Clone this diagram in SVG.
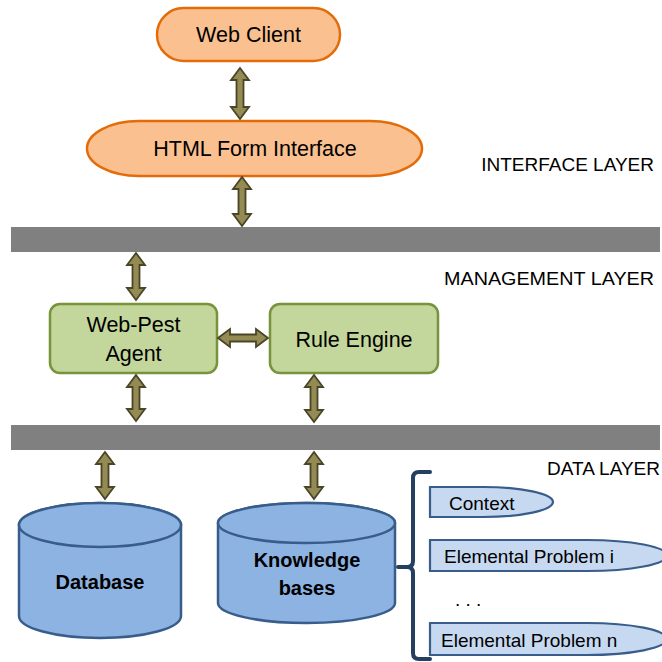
<svg xmlns="http://www.w3.org/2000/svg" width="662" height="662" viewBox="0 0 662 662">
<defs>
<style>
text{font-family:"Liberation Sans",Arial,sans-serif;fill:#000}
.lbl{font-size:21.5px;text-anchor:middle}
.layer{font-size:19px;text-anchor:end}
.orange{fill:#FAC08F;stroke:#E36C09;stroke-width:2.5}
.green{fill:#C3D69B;stroke:#77933C;stroke-width:2.5}
.cyl{fill:#8DB3E2;stroke:#385D8A;stroke-width:2.5}
.leaf{fill:#C6D9F1;stroke:#385D8A;stroke-width:2.2}
.bar{fill:#808080}
.arr{fill:#948A54;stroke:#4A4526;stroke-width:1.8;stroke-linejoin:miter}
.bold{font-weight:bold;font-size:20px;text-anchor:middle}
.small{font-size:19px}
</style>
</defs>
<rect width="662" height="662" fill="#fff"/>

<g id="bars">
<rect class="bar" x="11" y="227" width="649" height="25"/>
<rect class="bar" x="11" y="425" width="649" height="25"/>
</g>

<g id="layer-labels">
<text class="layer" x="654" y="171">INTERFACE LAYER</text>
<text class="layer" x="654" y="285" textLength="210" lengthAdjust="spacingAndGlyphs">MANAGEMENT LAYER</text>
<text class="layer" x="660" y="475">DATA LAYER</text>
</g>

<g id="web-client">
<rect class="orange" x="157" y="8" width="183" height="53" rx="26.5" ry="26.5"/>
<text class="lbl" x="248.5" y="42">Web Client</text>
</g>

<g id="html-form">
<rect class="orange" x="87" y="121" width="335" height="55" rx="52" ry="27.5"/>
<text class="lbl" x="255" y="156">HTML Form Interface</text>
</g>

<g id="web-pest-agent">
<rect class="green" x="50" y="304" width="167" height="69" rx="10" ry="10"/>
<text class="lbl" x="133.5" y="332">Web-Pest</text>
<text class="lbl" x="133.5" y="361">Agent</text>
</g>

<g id="rule-engine">
<rect class="green" x="270" y="304" width="168" height="69" rx="10" ry="10"/>
<text class="lbl" x="354" y="347">Rule Engine</text>
</g>

<g id="database">
<path class="cyl" d="M19,525 V616 A81,22 0 0 0 181,616 V525 A81,22 0 0 0 19,525 Z"/>
<ellipse class="cyl" cx="100" cy="525" rx="81" ry="22"/>
<text class="bold" x="100" y="589">Database</text>
</g>

<g id="knowledge-bases">
<path class="cyl" d="M218,523 V603 A88.5,20 0 0 0 395,603 V523 A88.5,20 0 0 0 218,523 Z"/>
<ellipse class="cyl" cx="306.5" cy="523" rx="88.5" ry="20"/>
<text class="bold" x="307" y="567">Knowledge</text>
<text class="bold" x="307" y="595">bases</text>
</g>

<g id="brace">
<path d="M430,472 H419 Q413,472 413,478 V561 Q413,567 407,567 H398 M407,567 Q413,567 413,573 V653 Q413,659 419,659 H430" fill="none" stroke="#243F60" stroke-width="4" stroke-linecap="round"/>
</g>

<g id="context">
<path class="leaf" d="M430,487 H483 A70,15 0 0 1 483,517 H430 Z"/>
<text class="small" x="449" y="510">Context</text>
</g>

<g id="elemental-problem-i">
<path class="leaf" d="M430,540 H587 A80,15.5 0 0 1 587,571 H430 Z"/>
<text class="small" x="444" y="563">Elemental Problem i</text>
</g>

<g id="ellipsis">
<text class="small" x="455" y="606">. . .</text>
</g>

<g id="elemental-problem-n">
<path class="leaf" d="M430,623 H587 A80,16 0 0 1 587,655 H430 Z"/>
<text class="small" x="441" y="647">Elemental Problem n</text>
</g>

<g id="connectors">
<path class="arr" d="M240,68 L249,80 L243.5,80 L243.5,107 L249,107 L240,119 L231,107 L236.5,107 L236.5,80 L231,80 Z"/>
<path class="arr" d="M242,177 L251,189 L245.5,189 L245.5,214 L251,214 L242,226 L233,214 L238.5,214 L238.5,189 L233,189 Z"/>
<path class="arr" d="M136,253 L145,265 L139.5,265 L139.5,288 L145,288 L136,300 L127,288 L132.5,288 L132.5,265 L127,265 Z"/>
<path class="arr" d="M218,338 L230,329 L230,334.5 L256,334.5 L256,329 L268,338 L256,347 L256,341.5 L230,341.5 L230,347 Z"/>
<path class="arr" d="M136,375 L145,387 L139.5,387 L139.5,409 L145,409 L136,421 L127,409 L132.5,409 L132.5,387 L127,387 Z"/>
<path class="arr" d="M314,375 L323,387 L317.5,387 L317.5,410 L323,410 L314,422 L305,410 L310.5,410 L310.5,387 L305,387 Z"/>
<path class="arr" d="M105,452 L114,464 L108.5,464 L108.5,487 L114,487 L105,499 L96,487 L101.5,487 L101.5,464 L96,464 Z"/>
<path class="arr" d="M314,452 L323,464 L317.5,464 L317.5,487 L323,487 L314,499 L305,487 L310.5,487 L310.5,464 L305,464 Z"/>
</g>
</svg>
